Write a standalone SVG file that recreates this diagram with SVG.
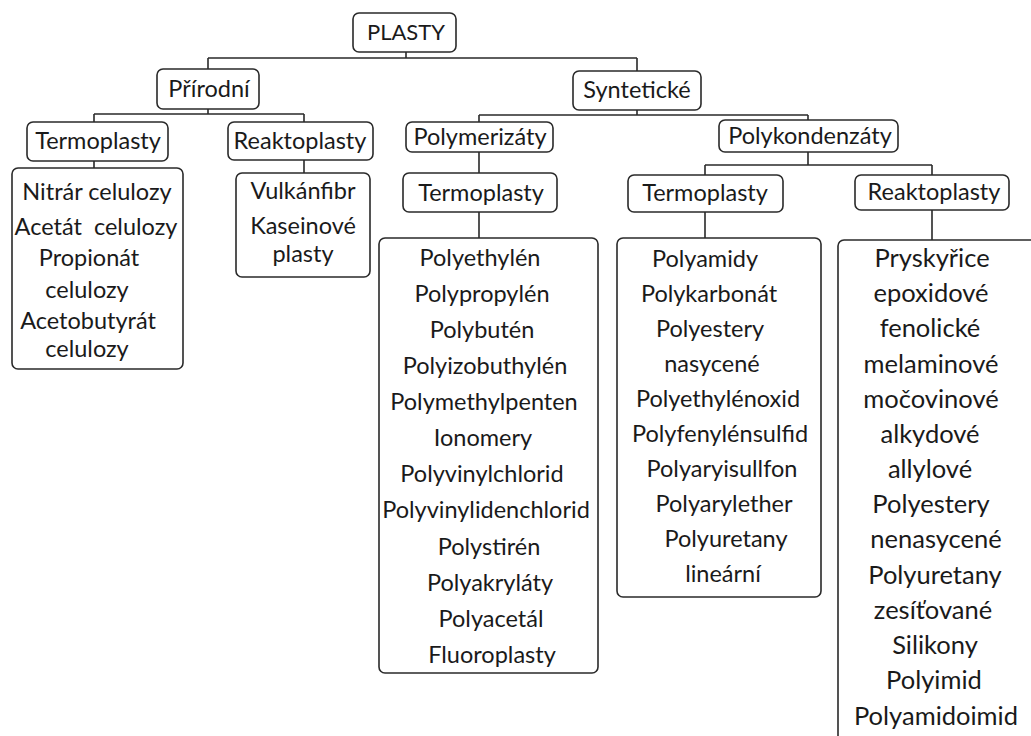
<svg xmlns="http://www.w3.org/2000/svg" width="1031" height="736" viewBox="0 0 1031 736">
<style>
.box{fill:#fff;stroke:#2a2a2a;stroke-width:1.6}
.t{font-family:Lato,"Liberation Sans",sans-serif;font-size:23.5px;fill:#1a1a1a;text-anchor:middle}
.c{font-family:Lato,"Liberation Sans",sans-serif;font-size:23.5px;fill:#1a1a1a;text-anchor:middle}
.r{font-family:Lato,"Liberation Sans",sans-serif;font-size:25.5px;fill:#1a1a1a;text-anchor:middle}
.ln{fill:none;stroke:#2a2a2a;stroke-width:1.6}
</style>
<rect width="1031" height="736" fill="#fff"/>
<g id="connectors">
<path class="ln" d="M406 52V58M208 58H637M208 58V69M637 58V71"/>
<path class="ln" d="M208 109V114M94 114H304M94 114V122M304 114V122"/>
<path class="ln" d="M94 161V168M304 160V173"/>
<path class="ln" d="M637 110V115M479 115H808M479 115V122M808 115V120"/>
<path class="ln" d="M479 152V173M479 212V238"/>
<path class="ln" d="M808 152V165M705 165H932M705 165V175M932 165V175"/>
<path class="ln" d="M705 212V238M932 210V240"/>
</g>
<g id="plasty"><rect class="box" x="353" y="13" width="103" height="39" rx="6"/><text class="t" x="406" y="40" style="font-size:22px">PLASTY</text></g>
<g id="prirodni"><rect class="box" x="157" y="69" width="102" height="40" rx="6"/><text class="t" x="209" y="97">Přírodní</text></g>
<g id="synteticke"><rect class="box" x="573" y="71" width="128" height="39" rx="6"/><text class="t" x="637" y="98">Syntetické</text></g>
<g id="termoplasty-prir"><rect class="box" x="27" y="122" width="141" height="39" rx="6"/><text class="t" x="98" y="149">Termoplasty</text></g>
<g id="reaktoplasty-prir"><rect class="box" x="228" y="122" width="145" height="38" rx="6"/><text class="t" x="300" y="149">Reaktoplasty</text></g>
<g id="polymerizaty"><rect class="box" x="406" y="122" width="147" height="30" rx="6"/><text class="t" x="480" y="145">Polymerizáty</text></g>
<g id="polykondenzaty"><rect class="box" x="719" y="120" width="179" height="32" rx="6"/><text class="t" x="810" y="144">Polykondenzáty</text></g>
<g id="termoplasty-pm"><rect class="box" x="403" y="173" width="154" height="39" rx="6"/><text class="t" x="481" y="201">Termoplasty</text></g>
<g id="termoplasty-pk"><rect class="box" x="628" y="175" width="155" height="37" rx="6"/><text class="t" x="705" y="201">Termoplasty</text></g>
<g id="reaktoplasty-pk"><rect class="box" x="855" y="175" width="154" height="35" rx="6"/><text class="t" x="934" y="200">Reaktoplasty</text></g>
<g id="prirodni-termo-list"><rect class="box" x="12" y="168" width="171" height="201" rx="6"/>
<text class="c" x="97" y="200">Nitrár celulozy</text>
<text class="c" x="96" y="235" xml:space="preserve">Acetát  celulozy</text>
<text class="c" x="89" y="266">Propionát</text>
<text class="c" x="87" y="298">celulozy</text>
<text class="c" x="88" y="329">Acetobutyrát</text>
<text class="c" x="87" y="357">celulozy</text>
</g>
<g id="prirodni-reakto-list"><rect class="box" x="236" y="173" width="134" height="104" rx="6"/>
<text class="c" x="303" y="199">Vulkánfibr</text>
<text class="c" x="303" y="234">Kaseinové</text>
<text class="c" x="303" y="262">plasty</text>
</g>
<g id="polymerizaty-list"><rect class="box" x="379" y="238" width="219" height="435" rx="6"/>
<text class="c" x="480" y="266">Polyethylén</text>
<text class="c" x="482" y="302">Polypropylén</text>
<text class="c" x="482" y="338">Polybutén</text>
<text class="c" x="485" y="374">Polyizobuthylén</text>
<text class="c" x="484" y="410">Polymethylpenten</text>
<text class="c" x="483" y="446">Ionomery</text>
<text class="c" x="482" y="482">Polyvinylchlorid</text>
<text class="c" x="486" y="518">Polyvinylidenchlorid</text>
<text class="c" x="489" y="555">Polystirén</text>
<text class="c" x="490" y="591">Polyakryláty</text>
<text class="c" x="491" y="627">Polyacetál</text>
<text class="c" x="492" y="663">Fluoroplasty</text>
</g>
<g id="polykondenzaty-termo-list"><rect class="box" x="617" y="238" width="204" height="359" rx="6"/>
<text class="c" x="705" y="267">Polyamidy</text>
<text class="c" x="709" y="302">Polykarbonát</text>
<text class="c" x="710" y="337">Polyestery</text>
<text class="c" x="712" y="372">nasycené</text>
<text class="c" x="718" y="407">Polyethylénoxid</text>
<text class="c" x="720" y="442">Polyfenylénsulfid</text>
<text class="c" x="722" y="477">Polyaryisullfon</text>
<text class="c" x="724" y="512">Polyarylether</text>
<text class="c" x="726" y="547">Polyuretany</text>
<text class="c" x="723" y="582">lineární</text>
</g>
<g id="polykondenzaty-reakto-list"><rect class="box" x="838" y="240" width="230" height="540" rx="6"/>
<text class="r" x="932" y="267">Pryskyřice</text>
<text class="r" x="931" y="302">epoxidové</text>
<text class="r" x="930" y="337">fenolické</text>
<text class="r" x="931" y="373">melaminové</text>
<text class="r" x="931" y="408">močovinové</text>
<text class="r" x="930" y="443">alkydové</text>
<text class="r" x="930" y="478">allylové</text>
<text class="r" x="931" y="513">Polyestery</text>
<text class="r" x="936" y="548">nenasycené</text>
<text class="r" x="935" y="584">Polyuretany</text>
<text class="r" x="933" y="619">zesíťované</text>
<text class="r" x="935" y="654">Silikony</text>
<text class="r" x="934" y="689">Polyimid</text>
<text class="r" x="936" y="725">Polyamidoimid</text>
</g>
</svg>
